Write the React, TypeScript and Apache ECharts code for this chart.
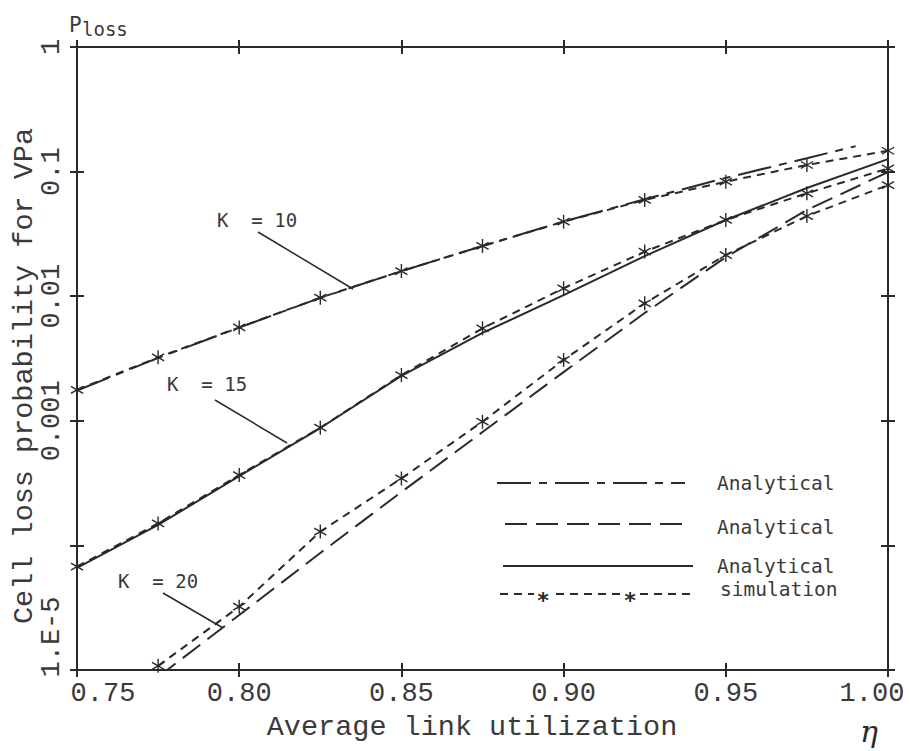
import React, { useEffect, useRef } from "react";
import * as echarts from "echarts";

// ---------- data ----------
const xSim = [0.75, 0.775, 0.8, 0.825, 0.85, 0.875, 0.9, 0.925, 0.95, 0.975, 1.0];
const simK10 = [0.00177, 0.00323, 0.00562, 0.00973, 0.0159, 0.0253, 0.0396, 0.0592, 0.083, 0.113, 0.147];
const simK15 = [6.75e-5, 1.5e-4, 3.67e-4, 8.8e-4, 2.33e-3, 5.52e-3, 0.01157, 0.0228, 0.0409, 0.067, 0.106];
const xSimK20 = [0.775, 0.8, 0.825, 0.85, 0.875, 0.9, 0.925, 0.95, 0.975, 1.0];
const simK20 = [1.08e-5, 3.22e-5, 1.29e-4, 3.45e-4, 9.84e-4, 3.08e-3, 8.77e-3, 0.0214, 0.044, 0.078];

const xAnaK10 = [0.75, 0.775, 0.8, 0.825, 0.85, 0.875, 0.9, 0.925, 0.95, 0.975, 0.99];
const anaK10 = [0.00175, 0.0032, 0.0056, 0.0097, 0.0159, 0.0253, 0.0398, 0.06, 0.089, 0.128, 0.16];
const xAnaK15 = [0.75, 0.775, 0.8, 0.825, 0.85, 0.875, 0.9, 0.925, 0.95, 0.975, 1.0];
const anaK15 = [6.6e-5, 1.46e-4, 3.6e-4, 8.75e-4, 2.29e-3, 5.07e-3, 0.0102, 0.021, 0.0409, 0.0738, 0.126];
const xAnaK20 = [0.775, 0.8, 0.825, 0.85, 0.875, 0.9, 0.925, 0.95, 0.975, 1.0];
const anaK20 = [8.8e-6, 2.76e-5, 8.69e-5, 2.68e-4, 8.13e-4, 2.46e-3, 7.33e-3, 0.0206, 0.0492, 0.099];

const xTickLabels = ["0.75", "0.80", "0.85", "0.90", "0.95", "1.00"];
// labels for exponents -5 .. 0
const yTickLabels = ["1.E-5", "", "0.001", "0.01", "0.1", "1"];
const legendLabels = ["Analytical", "Analytical", "Analytical", "simulation"];
const curveLabels = ["K  = 10", "K  = 15", "K  = 20"];
const xTitle = "Average link utilization";
const yTitle = "Cell loss probability for VPa";

// ---------- styles ----------
const INK = "#2a2a2a";
const TXT = "#3a3a3a";
const MONO = "Liberation Mono";
const SMONO = "DejaVu Sans Mono";
const DASHDOT = [34, 8, 8, 8];
const LONGDASH = [22, 9];
const SHORTDASH = [8, 6];

const STAR =
  "path://M1 -10 L1 10 L-1 10 L-1 -10 Z " +
  "M-8.16 -5.87 L9.16 4.13 L8.16 5.87 L-9.16 -4.13 Z " +
  "M-9.16 4.13 L8.16 -5.87 L9.16 -4.13 L-8.16 5.87 Z";

const zip = (xs: number[], ys: number[]) => xs.map((x, i) => [x, ys[i]]);

export default function App() {
  const ref = useRef<HTMLDivElement>(null);

  useEffect(() => {
    if (!ref.current) return;
    const chart = echarts.init(ref.current, undefined, { renderer: "svg" });

    const xBase: any = {
      type: "value",
      min: 0.75,
      max: 1,
      interval: 0.05,
      splitLine: { show: false },
      axisLine: { show: false, lineStyle: { color: INK, width: 2 } },
      axisTick: { show: true, length: 7, lineStyle: { color: INK, width: 2 } },
      axisLabel: { show: false },
    };
    const yBase: any = {
      type: "log",
      logBase: 10,
      min: 1e-5,
      max: 1,
      splitNumber: 5,
      splitLine: { show: false },
      minorTick: { show: false },
      axisLine: { show: false, lineStyle: { color: INK, width: 2 } },
      axisTick: { show: true, length: 7, lineStyle: { color: INK, width: 2 } },
      axisLabel: { show: false },
    };

    const lineSeries = (xs: number[], ys: number[], dash: any, withStar: boolean) => ({
      type: "line",
      xAxisIndex: 0,
      yAxisIndex: 0,
      data: zip(xs, ys),
      symbol: withStar ? STAR : "none",
      symbolSize: 14,
      symbolKeepAspect: true,
      showSymbol: withStar,
      itemStyle: { color: INK },
      lineStyle: { color: INK, width: 2, type: dash },
      clip: true,
      z: withStar ? 3 : 2,
    });

    const legendY = [483, 524, 566, 594];
    const legendDash: any[] = [DASHDOT, LONGDASH, null, SHORTDASH];
    const legendX1 = [497, 505, 503, 500];
    const legendX2 = [685, 685, 693, 690];

    const graphic: any[] = [];
    legendY.forEach((y, i) => {
      graphic.push({
        type: "line",
        shape: { x1: legendX1[i], y1: y, x2: legendX2[i], y2: y },
        style: { stroke: INK, lineWidth: 2, lineDash: legendDash[i] || undefined },
      });
    });
    [543, 630].forEach((x) => {
      graphic.push({
        type: "rect",
        shape: { x: x - 9, y: 586, width: 18, height: 16 },
        style: { fill: "#fff" },
      });
      graphic.push({
        type: "text",
        x,
        y: 600,
        style: { text: "*", fontSize: 22, fontFamily: SMONO, fill: INK, align: "center", verticalAlign: "middle", fontWeight: "bold" },
      });
    });
    const legendTextY = [483, 527, 566, 589];
    legendTextY.forEach((y, i) => {
      graphic.push({
        type: "text",
        x: i === 3 ? 720 : 717,
        y,
        style: { text: legendLabels[i], fontSize: 19.5, fontFamily: SMONO, fill: TXT, align: "left", verticalAlign: "middle" },
      });
    });

    // curve annotations
    const annX = [217, 167, 118];
    const annY = [220, 384, 581];
    const leaders = [
      [258, 232, 353, 289],
      [215, 400, 287, 443],
      [163, 593, 223, 628],
    ];
    curveLabels.forEach((t, i) => {
      graphic.push({
        type: "text",
        x: annX[i],
        y: annY[i],
        style: { text: t, fontSize: 19, fontFamily: SMONO, fill: TXT, align: "left", verticalAlign: "middle" },
      });
      const l = leaders[i];
      graphic.push({
        type: "line",
        shape: { x1: l[0], y1: l[1], x2: l[2], y2: l[3] },
        style: { stroke: INK, lineWidth: 1.5 },
      });
    });

    // titles
    graphic.push({
      type: "text",
      x: 472,
      y: 727,
      style: { text: xTitle, fontSize: 28.5, fontFamily: MONO, fill: TXT, align: "center", verticalAlign: "middle" },
    });
    graphic.push({
      type: "text",
      x: 24,
      y: 376,
      rotation: Math.PI / 2,
      style: { text: yTitle, fontSize: 28.5, fontFamily: MONO, fill: TXT, align: "center", verticalAlign: "middle" },
    });
    graphic.push({
      type: "text",
      x: 69,
      y: 25,
      style: { text: "P", fontSize: 21, fontFamily: SMONO, fill: TXT, align: "left", verticalAlign: "middle" },
    });
    graphic.push({
      type: "text",
      x: 82,
      y: 29,
      style: { text: "loss", fontSize: 19, fontFamily: SMONO, fill: TXT, align: "left", verticalAlign: "middle" },
    });
    graphic.push({
      type: "text",
      x: 869,
      y: 731,
      style: { text: "η", fontSize: 30, fontFamily: "DejaVu Serif", fontStyle: "italic", fill: INK, align: "center", verticalAlign: "middle" },
    });

    const option: any = {
      animation: false,
      backgroundColor: "#ffffff",
      grid: { left: 77, right: 22, top: 47, bottom: 81, containLabel: false },
      xAxis: [
        {
          ...xBase,
          position: "bottom",
          axisLine: { show: true, lineStyle: { color: INK, width: 2 } },
          axisLabel: {
            show: true,
            margin: 10,
            fontFamily: MONO,
            fontSize: 27,
            color: TXT,
            formatter: (v: number) => {
              const i = Math.round((v - 0.75) / 0.05);
              const s = xTickLabels[i];
              if (i === 0) return `{lo|${s}}`;
              if (i === xTickLabels.length - 1) return `{hi|${s}}`;
              return s;
            },
            rich: {
              lo: { fontFamily: MONO, fontSize: 27, color: TXT, padding: [0, 0, 0, 52] },
              hi: { fontFamily: MONO, fontSize: 27, color: TXT, padding: [0, 32, 0, 0] },
            },
          },
        },
        { ...xBase, position: "bottom", axisTick: { ...xBase.axisTick, inside: true } },
        { ...xBase, position: "top", axisLine: { show: true, lineStyle: { color: INK, width: 2 } } },
        { ...xBase, position: "top", axisTick: { ...xBase.axisTick, inside: true } },
      ],
      yAxis: [
        {
          ...yBase,
          position: "left",
          axisLine: { show: true, lineStyle: { color: INK, width: 2 } },
          axisLabel: {
            show: true,
            rotate: 90,
            margin: 12,
            fontFamily: MONO,
            fontSize: 27,
            color: TXT,
            formatter: (v: number) => {
              const e = Math.round(Math.log10(v));
              const s = yTickLabels[e + 5];
              if (e === -5) return `{lo|${s}}`;
              return s;
            },
            rich: {
              lo: { fontFamily: MONO, fontSize: 27, color: TXT, padding: [0, 0, 0, 66] },
            },
          },
        },
        { ...yBase, position: "left", axisTick: { ...yBase.axisTick, inside: true } },
        { ...yBase, position: "right", axisLine: { show: true, lineStyle: { color: INK, width: 2 } } },
        { ...yBase, position: "right", axisTick: { ...yBase.axisTick, inside: true } },
      ],
      series: [
        lineSeries(xAnaK10, anaK10, DASHDOT, false),
        lineSeries(xAnaK15, anaK15, "solid", false),
        lineSeries(xAnaK20, anaK20, LONGDASH, false),
        lineSeries(xSim, simK10, SHORTDASH, true),
        lineSeries(xSim, simK15, SHORTDASH, true),
        lineSeries(xSimK20, simK20, SHORTDASH, true),
      ],
      graphic,
    };

    chart.setOption(option);
    return () => chart.dispose();
  }, []);

  return (
    <div
      ref={ref}
      style={{ position: "fixed", left: 0, top: 0, width: 910, height: 751, background: "#fff" }}
    />
  );
}
